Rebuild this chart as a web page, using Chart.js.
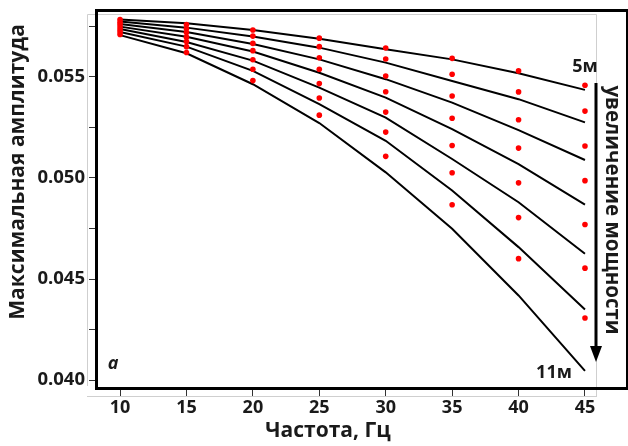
<!DOCTYPE html>
<html>
<head>
<meta charset="utf-8">
<script src="https://cdn.jsdelivr.net/npm/chart.js@4"></script>
<style>
html, body { margin: 0; padding: 0; background: #fff; }
#wrap { width: 628px; height: 446px; }
</style>
</head>
<body>
<div id="wrap"><canvas id="ampChart" width="628" height="446"></canvas></div>
<script>
const freq = [10, 15, 20, 25, 30, 35, 40, 45];

// calculated curves, 5m ... 11m
const calc5m  = [0.05784, 0.05766, 0.05732, 0.05689, 0.05637, 0.05587, 0.05518, 0.05436];
const calc6m  = [0.05774, 0.05744, 0.05700, 0.05645, 0.05571, 0.05480, 0.05390, 0.05275];
const calc7m  = [0.05762, 0.05722, 0.05663, 0.05587, 0.05489, 0.05373, 0.05237, 0.05089];
const calc8m  = [0.05749, 0.05699, 0.05626, 0.05521, 0.05398, 0.05242, 0.05069, 0.04868];
const calc9m  = [0.05737, 0.05673, 0.05581, 0.05447, 0.05299, 0.05094, 0.04880, 0.04625];
const calc10m = [0.05722, 0.05650, 0.05530, 0.05365, 0.05184, 0.04938, 0.04658, 0.04349];
const calc11m = [0.05707, 0.05617, 0.05464, 0.05272, 0.05028, 0.04749, 0.04419, 0.04046];

// measured points (red)
const meas5m  = [0.05784, 0.05759, 0.05732, 0.05692, 0.05643, 0.05592, 0.05530, 0.05459];
const meas6m  = [0.05771, 0.05739, 0.05702, 0.05650, 0.05589, 0.05513, 0.05426, 0.05331];
const meas7m  = [0.05759, 0.05720, 0.05666, 0.05595, 0.05505, 0.05406, 0.05288, 0.05158];
const meas8m  = [0.05747, 0.05697, 0.05630, 0.05538, 0.05427, 0.05296, 0.05148, 0.04987];
const meas9m  = [0.05734, 0.05675, 0.05585, 0.05467, 0.05326, 0.05161, 0.04976, 0.04770];
const meas10m = [0.05722, 0.05650, 0.05538, 0.05396, 0.05227, 0.05026, 0.04804, 0.04554];
const meas11m = [0.05710, 0.05621, 0.05482, 0.05311, 0.05107, 0.04868, 0.04601, 0.04307];

const yTicks = [0.040, 0.0425, 0.045, 0.0475, 0.050, 0.0525, 0.055, 0.0575];
const xTicks = [10, 15, 20, 25, 30, 35, 40, 45];

const calcSeries = [calc5m, calc6m, calc7m, calc8m, calc9m, calc10m, calc11m];
const measSeries = [meas5m, meas6m, meas7m, meas8m, meas9m, meas10m, meas11m];

const toPoints = arr => arr.map((v, i) => ({ x: freq[i], y: v }));

const datasets = [];
calcSeries.forEach((s, i) => {
    datasets.push({
        label: 'calc ' + (i + 5) + 'м',
        data: toPoints(s),
        borderColor: '#000',
        borderWidth: 2,
        pointRadius: 0,
        tension: 0,
        fill: false,
        order: 2
    });
});
measSeries.forEach((s, i) => {
    datasets.push({
        label: 'meas ' + (i + 5) + 'м',
        data: toPoints(s),
        showLine: false,
        pointRadius: 2.8,
        pointBackgroundColor: '#ff0000',
        pointBorderWidth: 0,
        order: 1
    });
});

const FONT = '"Open Sans", "DejaVu Sans", sans-serif';
const TEXT = '#1a1a1a';

// frame, arrow and labels drawn on top of the chart
const decor = {
    id: 'decor',
    beforeDraw(chart) {
        const ctx = chart.ctx;
        ctx.save();
        ctx.strokeStyle = '#cfcfcf';
        ctx.lineWidth = 1;
        ctx.beginPath();
        ctx.moveTo(87.5, 386); ctx.lineTo(87.5, 14.5); ctx.lineTo(596.5, 14.5); ctx.lineTo(596.5, 396);
        ctx.moveTo(87, 396.5); ctx.lineTo(597, 396.5);
        ctx.stroke();
        ctx.restore();
    },
    afterDraw(chart) {
        const ctx = chart.ctx;
        ctx.save();
        // thick outer frame
        ctx.strokeStyle = '#000';
        ctx.lineWidth = 3;
        ctx.strokeRect(96.5, 10.5, 531, 378);

        // arrow
        ctx.lineWidth = 3;
        ctx.beginPath();
        ctx.moveTo(596, 83); ctx.lineTo(596, 350);
        ctx.stroke();
        ctx.fillStyle = '#000';
        ctx.beginPath();
        ctx.moveTo(590, 346); ctx.lineTo(602, 346); ctx.lineTo(596, 362);
        ctx.closePath();
        ctx.fill();

        ctx.fillStyle = TEXT;
        ctx.textAlign = 'center';
        ctx.textBaseline = 'middle';
        ctx.font = 'bold 18px ' + FONT;
        ctx.fillText('5м', 585, 67);
        ctx.fillText('11м', 554, 373);

        ctx.font = 'italic bold 18px ' + FONT;
        ctx.fillText('а', 113, 364);

        ctx.font = 'bold 21px ' + FONT;
        ctx.fillText('Частота, Гц', 328, 431);

        ctx.save();
        ctx.translate(18, 172);
        ctx.rotate(-Math.PI / 2);
        ctx.fillText('Максимальная амплитуда', 0, 0);
        ctx.restore();

        ctx.font = 'bold 20.5px ' + FONT;
        ctx.save();
        ctx.translate(612, 210);
        ctx.rotate(Math.PI / 2);
        ctx.fillText('увеличение мощности', 0, 0);
        ctx.restore();

        ctx.restore();
    }
};

new Chart(document.getElementById('ampChart').getContext('2d'), {
    type: 'line',
    data: { datasets: datasets },
    options: {
        responsive: false,
        animation: false,
        devicePixelRatio: 1,
        layout: { padding: { left: 0, right: 32, top: 14, bottom: 0 } },
        plugins: {
            legend: { display: false },
            tooltip: { enabled: false }
        },
        scales: {
            x: {
                type: 'linear',
                min: 8.19,
                max: 45.83,
                afterBuildTicks: scale => { scale.ticks = xTicks.map(v => ({ value: v })); },
                afterFit: scale => { scale.height = 57; },
                border: { display: false },
                grid: { drawOnChartArea: false, drawTicks: true, tickLength: 7, color: '#333', lineWidth: 1 },
                ticks: {
                    color: TEXT,
                    padding: 1,
                    maxRotation: 0,
                    font: { family: FONT, size: 18, weight: 'bold' }
                }
            },
            y: {
                min: 0.03956,
                max: 0.05806,
                afterBuildTicks: scale => { scale.ticks = yTicks.map(v => ({ value: v })); },
                afterFit: scale => { scale.width = 96; },
                border: { display: false },
                grid: { drawOnChartArea: false, drawTicks: true, tickLength: 7, color: '#333', lineWidth: 1 },
                ticks: {
                    color: TEXT,
                    padding: 4,
                    font: { family: FONT, size: 18.5, weight: 'bold' },
                    callback: function(value) {
                        return Math.round(value * 10000) % 50 === 0 ? value.toFixed(3) : '';
                    }
                }
            }
        }
    },
    plugins: [decor]
});
</script>
</body>
</html>
